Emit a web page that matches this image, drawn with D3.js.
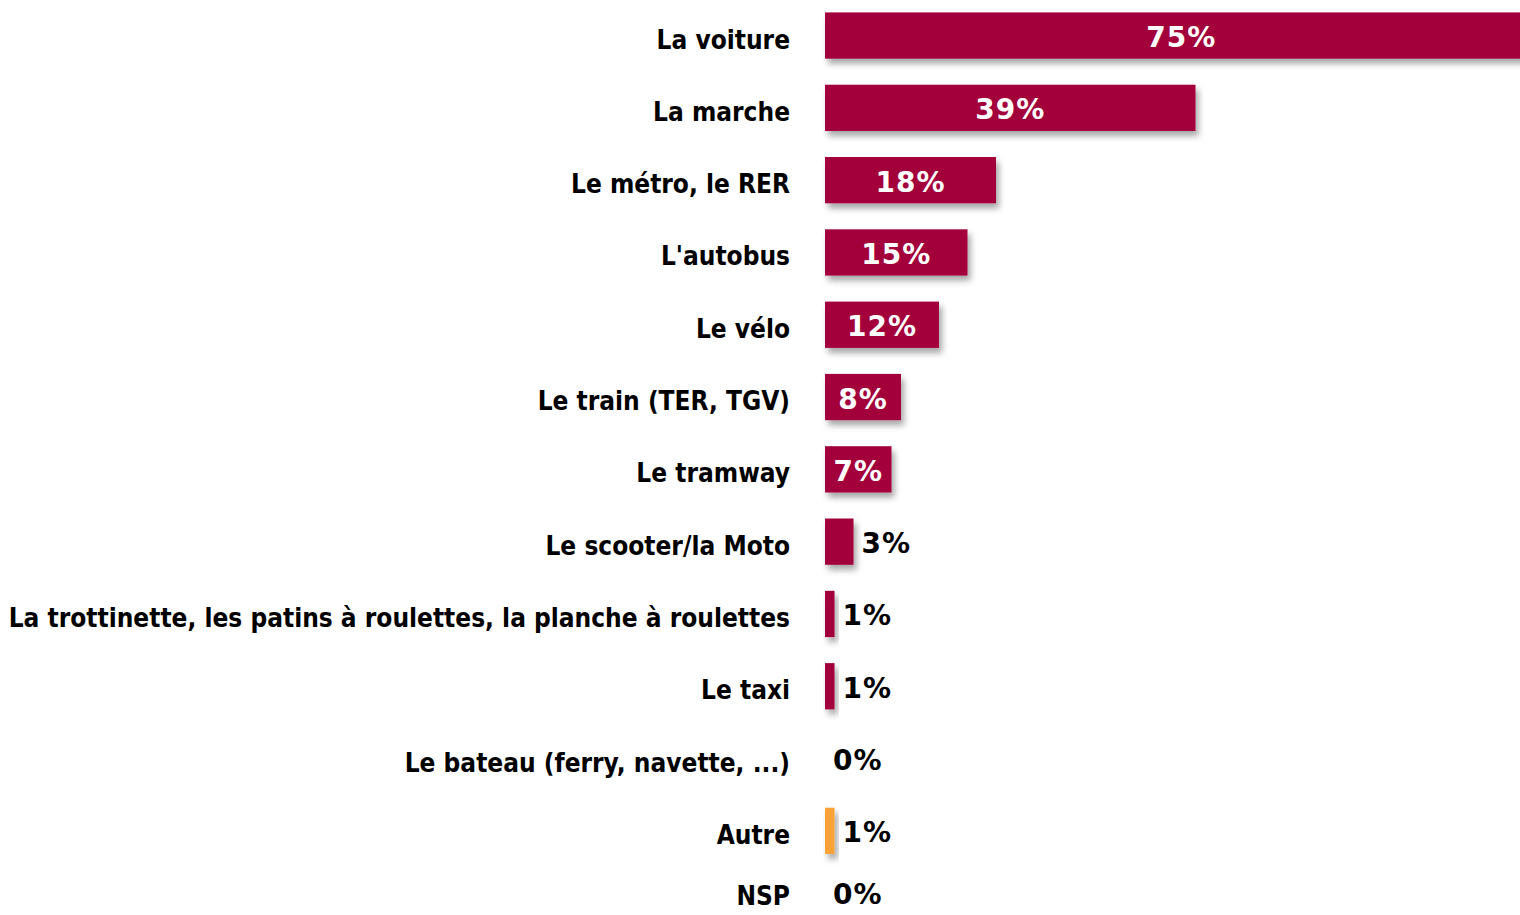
<!DOCTYPE html>
<html>
<head>
<meta charset="utf-8">
<script src="https://cdn.jsdelivr.net/npm/d3@7"></script>
<style>
  html, body { margin: 0; padding: 0; background: #fff; overflow: hidden; }
  svg { display: block; }
</style>
</head>
<body>
<div id="chart"></div>
<script>
// Données du graphique
const categories = [
  "La voiture", "La marche", "Le métro, le RER", "L'autobus", "Le vélo",
  "Le train (TER, TGV)", "Le tramway", "Le scooter/la Moto",
  "La trottinette, les patins à roulettes, la planche à roulettes",
  "Le taxi", "Le bateau (ferry, navette, ...)", "Autre", "NSP"
];
const values = [75, 39, 18, 15, 12, 8, 7, 3, 1, 1, 0, 1, 0];
const highlight = ["Autre"]; // barres en orange

const width = 1520, height = 915;
const x0 = 825;          // début des barres
const labelX = 790;      // fin des libellés
const rowTop = -0.6, rowStep = 72.3;

const svg = d3.select("#chart").append("svg")
  .attr("width", width)
  .attr("height", height);

// Ombre portée
const defs = svg.append("defs");
const filt = defs.append("filter").attr("id", "shadow")
  .attr("x", "-20%").attr("y", "-20%").attr("width", "160%").attr("height", "160%");
filt.append("feDropShadow")
  .attr("dx", 3).attr("dy", 5)
  .attr("stdDeviation", 3)
  .attr("flood-color", "#000")
  .attr("flood-opacity", 0.35);

// Echelles
const x = d3.scaleLinear().domain([0, 100]).range([0, 950]);
const y = d3.scaleBand()
  .domain(categories)
  .range([rowTop, rowTop + rowStep * categories.length])
  .paddingInner(0.36)
  .paddingOuter(0.18);

const rows = categories.map((c, i) => ({ cat: c, val: values[i] }));
const mid = d => y(d.cat) + y.bandwidth() / 2;
const inside = d => x(d.val) > 60;

const g = svg.append("g");

// Barres
g.selectAll("rect.bar")
  .data(rows.filter(d => d.val > 0))
  .enter().append("rect")
  .attr("class", "bar")
  .attr("x", x0)
  .attr("y", d => y(d.cat))
  .attr("width", d => x(d.val))
  .attr("height", y.bandwidth())
  .attr("fill", d => highlight.includes(d.cat) ? "#F9A237" : "#A3063A")
  .attr("filter", "url(#shadow)");

// Libellés des catégories
g.selectAll("text.cat")
  .data(rows)
  .enter().append("text")
  .attr("class", "cat")
  .attr("x", labelX)
  .attr("y", d => Math.min(mid(d) + 4, height - 19))
  .attr("text-anchor", "end")
  .attr("dominant-baseline", "central")
  .style("font-family", "'DejaVu Sans Condensed', 'DejaVu Sans', sans-serif")
  .style("font-weight", "bold")
  .style("font-size", "26px")
  .attr("fill", "#000")
  .text(d => d.cat);

// Valeurs
g.selectAll("text.val")
  .data(rows)
  .enter().append("text")
  .attr("class", "val")
  .attr("x", d => inside(d) ? x0 + x(d.val) / 2 : x0 + x(d.val) + 8)
  .attr("y", d => Math.min(mid(d) + 2, height - 21))
  .attr("text-anchor", d => inside(d) ? "middle" : "start")
  .attr("dominant-baseline", "central")
  .style("font-family", "'DejaVu Sans', sans-serif")
  .style("font-weight", "bold")
  .style("font-size", "28px")
  .style("letter-spacing", "1px")
  .attr("fill", d => inside(d) ? "#fff" : "#000")
  .text(d => d.val + "%");
</script>
</body>
</html>
